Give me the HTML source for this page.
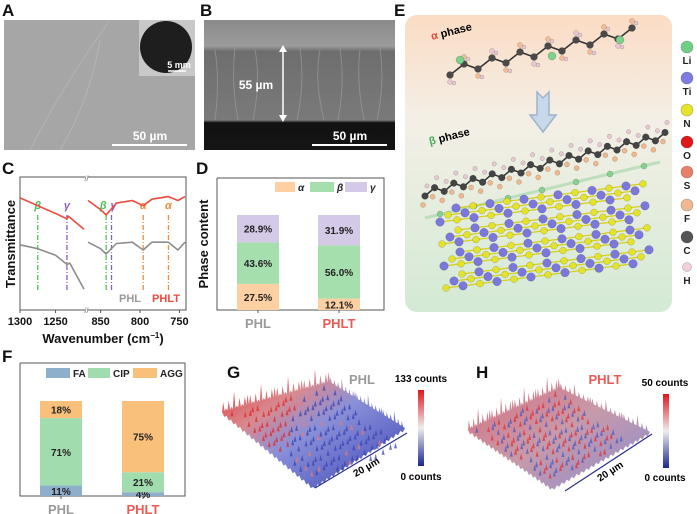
<!DOCTYPE html>
<html><head><meta charset="utf-8"><style>
body{margin:0;background:#fff;}
svg{display:block;font-family:"Liberation Sans",Arial,sans-serif;}
.pl{font-weight:bold;font-size:17px;fill:#111;}
.b{font-weight:bold;}
</style></head><body>
<svg id="fig" width="697" height="514" viewBox="0 0 697 514" xmlns="http://www.w3.org/2000/svg">
<defs>
<linearGradient id="eg" x1="0" y1="0" x2="0" y2="1"><stop offset="0" stop-color="#fbdcc4"/><stop offset="0.35" stop-color="#f4efe6"/><stop offset="1" stop-color="#d3ead5"/></linearGradient>
<linearGradient id="cb" x1="0" y1="0" x2="0" y2="1"><stop offset="0" stop-color="#e0141c"/><stop offset="0.5" stop-color="#eeeeee"/><stop offset="1" stop-color="#1c2690"/></linearGradient>
<linearGradient id="gs" x1="0" y1="0" x2="1" y2="1"><stop offset="0" stop-color="#e23030"/><stop offset="0.3" stop-color="#d88a90"/><stop offset="0.5" stop-color="#8a90d8"/><stop offset="1" stop-color="#3a44b8"/></linearGradient>
<linearGradient id="hs" x1="0" y1="0" x2="1" y2="1"><stop offset="0" stop-color="#d86a78"/><stop offset="0.5" stop-color="#c79aaa"/><stop offset="1" stop-color="#8a8ccf"/></linearGradient>
<linearGradient id="bg" x1="0" y1="0" x2="0" y2="1"><stop offset="0" stop-color="#8a8a8a"/><stop offset="0.2" stop-color="#9c9c9c"/><stop offset="0.24" stop-color="#6e6e6e"/><stop offset="0.77" stop-color="#7a7a7a"/><stop offset="0.79" stop-color="#111"/><stop offset="1" stop-color="#151515"/></linearGradient>
</defs>

<text class="pl" x="2" y="16">A</text>
<rect x="4" y="20" width="191" height="130" fill="#a6a6a6"/>
<path d="M30 150 Q60 90 110 20 M60 150 Q90 100 100 40" stroke="#b4b4b4" stroke-width="1" fill="none"/>
<rect x="139" y="20" width="56" height="56" fill="#c8c8c8"/>
<circle cx="166" cy="47" r="26" fill="#1e1e1e"/>
<text x="179" y="68" font-size="9" class="b" fill="#fff" text-anchor="middle">5 mm</text>
<line x1="168" y1="71" x2="186" y2="71" stroke="#fff" stroke-width="1.5"/>
<text x="150" y="140" font-size="12" class="b" fill="#fff" text-anchor="middle">50 µm</text>
<line x1="112" y1="145" x2="187" y2="145" stroke="#fff" stroke-width="2"/>

<text class="pl" x="200" y="16">B</text>
<rect x="204" y="20" width="191" height="130" fill="url(#bg)"/>
<g stroke="#9a9a9a" stroke-width="1" fill="none" opacity="0.7">
<path d="M215 50 q5 30 0 70 M235 48 q-4 35 3 72 M255 50 q6 30 -2 70 M300 48 q5 35 -3 72 M320 50 q-6 30 4 70 M340 48 q5 35 -2 72 M360 50 q-4 30 4 70 M380 48 q5 35 -3 72"/></g>
<line x1="283" y1="47" x2="283" y2="120" stroke="#fff" stroke-width="1.5"/>
<path d="M279 52 L283 45 L287 52 Z M279 115 L283 122 L287 115 Z" fill="#fff"/>
<text x="256" y="89" font-size="12" class="b" fill="#fff" text-anchor="middle">55 µm</text>
<text x="350" y="140" font-size="12" class="b" fill="#fff" text-anchor="middle">50 µm</text>
<line x1="312" y1="145" x2="387" y2="145" stroke="#fff" stroke-width="2"/>

<text class="pl" x="394" y="16">E</text>
<rect x="405" y="15" width="267" height="297" rx="12" fill="url(#eg)"/>
<g id="mol"></g>
<text x="432" y="40" font-size="11" class="b" transform="rotate(-14 432 40)"><tspan fill="#e84a3a">α</tspan> phase</text>
<text x="430" y="145" font-size="11" class="b" transform="rotate(-14 430 145)"><tspan fill="#4caa5a">β</tspan> phase</text>
<path d="M537 92 L543 98 L549 92 L549 115 L556 115 L543 132 L530 115 L537 115 Z" fill="#c8d8e8" stroke="#9ab4cc" stroke-width="1.5"/>
<g id="legendE"></g>

<text class="pl" x="2" y="174">C</text>
<g id="chartC"></g>

<text class="pl" x="196" y="174">D</text>
<g id="chartD"></g>

<text class="pl" x="2" y="362">F</text>
<g id="chartF"></g>

<text class="pl" x="227" y="378">G</text>
<text x="362" y="384" font-size="13" class="b" fill="#9a9a9a" text-anchor="middle">PHL</text>
<g id="surfG"></g>
<line x1="315" y1="488" x2="407" y2="433" stroke="#2a3090" stroke-width="1.2"/>
<text x="368" y="470" font-size="10" class="b" transform="rotate(-30 368 470)" text-anchor="middle">20 µm</text>
<rect x="418" y="390" width="6" height="76" fill="url(#cb)"/>
<text x="421" y="382" font-size="10" class="b" text-anchor="middle">133 counts</text>
<text x="421" y="480" font-size="10" class="b" text-anchor="middle">0 counts</text>

<text class="pl" x="476" y="378">H</text>
<text x="605" y="384" font-size="13" class="b" fill="#ec5a55" text-anchor="middle">PHLT</text>
<g id="surfH"></g>
<line x1="565" y1="491" x2="652" y2="434" stroke="#2a3090" stroke-width="1.2"/>
<text x="612" y="474" font-size="10" class="b" transform="rotate(-33 612 474)" text-anchor="middle">20 µm</text>
<rect x="663" y="394" width="6" height="74" fill="url(#cb)"/>
<text x="665" y="386" font-size="10" class="b" text-anchor="middle">50 counts</text>
<text x="665" y="481" font-size="10" class="b" text-anchor="middle">0 counts</text>
</svg>
<script>
const dCategories = ["PHL","PHLT"];
const dAlpha = [27.5,12.1];
const dBeta = [43.6,56.0];
const dGamma = [28.9,31.9];
const fCategories = ["PHL","PHLT"];
const fFA = [11,4];
const fCIP = [71,21];
const fAGG = [18,75];
const cPeakLabels = ["β","γ","β","γ","α","α"];
const cPeakWave = [1275,1234,843,840,796,764];
const cTickLabels = [1300,1250,850,800,750];
const cPHLTLeft = [[1300,0.86],[1275,0.8],[1250,0.74],[1234,0.7],[1232,0.72],[1210,0.62]];
const cPHLLeft = [[1300,0.5],[1275,0.47],[1250,0.42],[1234,0.35],[1230,0.36],[1210,0.16]];
const cPHLTRight = [[866,0.84],[850,0.77],[843,0.73],[830,0.82],[810,0.84],[796,0.8],[785,0.85],[764,0.87],[752,0.84],[743,0.87]];
const cPHLRight = [[866,0.52],[850,0.47],[843,0.43],[830,0.51],[810,0.52],[796,0.46],[785,0.52],[764,0.52],[752,0.46],[743,0.52]];

const NS="http://www.w3.org/2000/svg";
function mk(tag,attrs,parent){const e=document.createElementNS(NS,tag);for(const k in attrs)e.setAttribute(k,attrs[k]);parent.appendChild(e);return e;}

(function(){
 const g=document.getElementById('chartC');
 const top=177,bot=310,L=20,R=186;
 const xl=w=>20+(1300-w)/(1300-1210)*(84-20);
 const xr=w=>88+(866-w)/(866-743)*(185-88);
 const xw=w=>w>1000?xl(w):xr(w);
 const y=t=>bot-t*(bot-top)*0.98;
 let e=mk('rect',{x:L,y:top,width:R-L,height:bot-top,fill:'none',stroke:'#555','stroke-width':1},g);
 
 mk('rect',{x:85,y:174,width:3,height:6,fill:'#fff'},g);
 mk('rect',{x:85,y:307,width:3,height:6,fill:'#fff'},g);
 mk('text',{x:86.5,y:181,'font-size':7,'text-anchor':'middle',fill:'#555'},g).textContent='//';
 mk('text',{x:86.5,y:313,'font-size':7,'text-anchor':'middle',fill:'#555'},g).textContent='//';
 const cols=['#4fbf5a','#8a5cc8','#4fbf5a','#8a5cc8','#f08c3a','#f08c3a'];
 cPeakWave.forEach((w,i)=>{const x=xw(w)+(i===3?3:0);
  const l=mk('line',{x1:x,y1:215,x2:x,y2:292,stroke:cols[i],'stroke-width':1.3,'stroke-dasharray':'5,2,1,2'},g);
  
  const t=mk('text',{x:x+(i===2?-3:i===3?2:0),y:209,'font-size':11,'font-weight':'bold','font-style':'italic',fill:cols[i],'text-anchor':'middle'},g);t.textContent=cPeakLabels[i];
  });
 function line(d,col,name,xf){const p=mk('path',{d:'M'+d.map(q=>xf(q[0]).toFixed(1)+' '+y(q[1]).toFixed(1)).join(' L'),fill:'none',stroke:col,'stroke-width':1.6,'stroke-linejoin':'round'},g);
  }
 line(cPHLTLeft,'#ec4a3c','c-phlt-curve-left',xl);line(cPHLLeft,'#8c8c8c','c-phl-curve-left',xl);
 line(cPHLTRight,'#ec4a3c','c-phlt-curve-right',xr);line(cPHLRight,'#8c8c8c','c-phl-curve-right',xr);
 cTickLabels.forEach(w=>{const x=xw(w);mk('line',{x1:x,y1:bot,x2:x,y2:bot+3,stroke:'#555'},g);
  const t=mk('text',{x:x,y:325,'font-size':11,'font-weight':'bold','text-anchor':'middle',fill:'#111'},g);t.textContent=w;
  });
 let t=mk('text',{x:103,y:343,'font-size':13,'font-weight':'bold','text-anchor':'middle',fill:'#111'},g);
 t.innerHTML='Wavenumber (cm<tspan dy="-5" font-size="8">−1</tspan><tspan dy="5">)</tspan>';
 
 t=mk('text',{x:15,y:244,'font-size':13,'font-weight':'bold','text-anchor':'middle',fill:'#111',transform:'rotate(-90 15 244)'},g);t.textContent='Transmittance';
 
 t=mk('text',{x:130,y:302,'font-size':11,'font-weight':'bold','text-anchor':'middle',fill:'#999'},g);t.textContent='PHL';
 
 t=mk('text',{x:166,y:302,'font-size':11,'font-weight':'bold','text-anchor':'middle',fill:'#ec4a3c'},g);t.textContent='PHLT';
 
})();

function stacked(gid,frame,bars,series,cats,catCols,pfx){
 const g=document.getElementById(gid);
 let e=mk('path',{d:`M${frame.L} ${frame.top} L${frame.L} ${frame.bot} L${frame.R} ${frame.bot} L${frame.R} ${frame.top} L${frame.L} ${frame.top}`,fill:'none',stroke:'#555','stroke-width':1},g);
 
 const ys=v=>v*frame.scale;
 cats.forEach((c,i)=>{let acc=0;const x=bars.x[i];
  series.forEach(s=>{const v=s.vals[i];const h=ys(v);const yy=frame.bot-ys(acc)-h;
   const r=mk('rect',{x:x,y:yy,width:bars.w,height:h,fill:s.col},g);
   
   const t=mk('text',{x:x+bars.w/2,y:yy+h/2+4,'font-size':10,'font-weight':'bold','text-anchor':'middle',fill:'#222'},g);
   t.textContent=v.toFixed(s.dec)+'%';
   
   acc+=v;});
  mk('line',{x1:x+bars.w/2,y1:frame.bot,x2:x+bars.w/2,y2:frame.bot+3,stroke:'#555'},g);
  const t=mk('text',{x:x+bars.w/2,y:frame.bot+18,'font-size':13,'font-weight':'bold','text-anchor':'middle',fill:catCols[i]},g);t.textContent=c;
  });
 series.forEach(s=>{const r=mk('rect',{x:s.lx,y:frame.ly,width:s.lw,height:10,fill:s.col},g);
  
  const t=mk('text',{x:s.lx+s.lw+3,y:frame.ly+9,'font-size':10,'font-weight':'bold','font-style':s.it?'italic':'normal',fill:'#222'},g);t.textContent=s.name;
  });
 return g;}
const gD=stacked('chartD',{L:217,R:384,top:178,bot:310,scale:0.95,ly:182},{x:[237,318],w:42},
 [{key:'alpha',name:'α',vals:dAlpha,col:'#fdd0a4',dec:1,lx:275,lw:20,it:1},
  {key:'beta',name:'β',vals:dBeta,col:'#a6dfae',dec:1,lx:310,lw:24,it:1},
  {key:'gamma',name:'γ',vals:dGamma,col:'#d5c9e8',dec:1,lx:345,lw:22,it:1}],dCategories,['#9a9a9a','#ec5a55'],'d');
(function(){const t=mk('text',{x:208,y:244,'font-size':13,'font-weight':'bold','text-anchor':'middle',fill:'#111',transform:'rotate(-90 208 244)'},gD);t.textContent='Phase content';
 })();
stacked('chartF',{L:20,R:185,top:363,bot:496,scale:0.95,ly:368},{x:[40,122],w:42},
 [{key:'fa',name:'FA',vals:fFA,col:'#8eafcb',dec:0,lx:46,lw:24},
  {key:'cip',name:'CIP',vals:fCIP,col:'#a0dcae',dec:0,lx:88,lw:22},
  {key:'agg',name:'AGG',vals:fAGG,col:'#f9c07c',dec:0,lx:133,lw:24}],fCategories,['#9a9a9a','#ec5a55'],'f');

function surface(gid,P,fill,hot,name){
 const g=document.getElementById(gid);
 const [l,b,r,f]=P;
 let d=`M${l[0]} ${l[1]}`;
 const n=40;
 for(let i=1;i<=n;i++){const t=i/n;const x=l[0]+(b[0]-l[0])*t,y=l[1]+(b[1]-l[1])*t;d+=` L${(x-1.5).toFixed(1)} ${(y-(i%2?9:2)-(i%5==0?8:0)).toFixed(1)} L${x.toFixed(1)} ${y.toFixed(1)}`;}
 for(let i=1;i<=n;i++){const t=i/n;const x=b[0]+(r[0]-b[0])*t,y=b[1]+(r[1]-b[1])*t;d+=` L${(x-1.5).toFixed(1)} ${(y-(i%2?6:1)-(i%7==0?6:0)).toFixed(1)} L${x.toFixed(1)} ${y.toFixed(1)}`;}
 for(let i=1;i<=n;i++){const t=i/n;const x=r[0]+(f[0]-r[0])*t,y=r[1]+(f[1]-r[1])*t;d+=` L${x.toFixed(1)} ${(y+(i%2?3:0)).toFixed(1)}`;}
 for(let i=1;i<=n;i++){const t=i/n;const x=f[0]+(l[0]-f[0])*t,y=f[1]+(l[1]-f[1])*t;d+=` L${x.toFixed(1)} ${(y+(i%2?3:0)).toFixed(1)}`;}
 const p=mk('path',{d:d+' Z',fill:fill},g);
 
 for(let i=0;i<160;i++){const u=((i*37)%97)/97*0.9+0.05,v=((i*61)%89)/89*0.85+0.05;
  const x=l[0]+(b[0]-l[0])*u+(f[0]-l[0])*v,y=l[1]+(b[1]-l[1])*u+(f[1]-l[1])*v;
  mk('path',{d:`M${(x-1.5).toFixed(1)} ${(y+2).toFixed(1)} L${x.toFixed(1)} ${(y-4).toFixed(1)} L${(x+1.5).toFixed(1)} ${(y+2).toFixed(1)}Z`,fill:hot(u,v),opacity:0.75},g);}
}
surface('surfG',[[222,412],[330,382],[405,428],[313,487]],'url(#gs)',(u,v)=>(u+v<0.7?'#e02a2a':(u*v*13%1<0.2?'#e57a7a':'#3a44b0')),'g-surface-plot');
surface('surfH',[[468,430],[560,388],[650,432],[552,488]],'url(#hs)',(u,v)=>((u*7+v*3)%1<0.5?'#e0303a':'#5058c0'),'h-surface-plot');

(function(){
 const g=document.getElementById('mol');
 function atom(x,y,r,c){mk('circle',{cx:x.toFixed(1),cy:y.toFixed(1),r:r,fill:c,stroke:'rgba(0,0,0,0.25)','stroke-width':0.5},g);}
 for(let i=0;i<14;i++){const x=450+i*14,y=75-i*3+(i%2?-8:0);
  if(i>0)mk('line',{x1:x-14,y1:75-(i-1)*3+((i-1)%2?-8:0),x2:x,y2:y,stroke:'#333','stroke-width':1.5},g);}
 for(let i=0;i<14;i++){const x=450+i*14,y=75-i*3+(i%2?-8:0);
  atom(x,y+(i%2?-7:7),2.5,i%3?'#f3bd96':'#e8c8d2');atom(x+4,y+(i%2?-5:8),2,'#e8c8d2');atom(x,y,3.5,'#4a4a4a');}
 atom(460,60,4,'#7fd08a');atom(552,56,4,'#7fd08a');atom(620,40,4,'#7fd08a');
 for(let i=0;i<26;i++){const x=425+i*9.6,y=196-i*2.3+(i%2?-6:0);
  if(i>0)mk('line',{x1:x-9.6,y1:196-(i-1)*2.3+((i-1)%2?-6:0),x2:x,y2:y,stroke:'#333','stroke-width':1.5},g);}
 for(let i=0;i<26;i++){const x=425+i*9.6,y=196-i*2.3+(i%2?-6:0);
  atom(x-2,y+9,2.5,'#f0b88c');atom(x+2,y-10,2.2,'#e8c8d2');atom(x,y,3.4,'#444');}
 mk('line',{x1:425,y1:218,x2:660,y2:162,stroke:'#9fd6a6','stroke-width':3,opacity:0.6},g);
 for(let i=0;i<7;i++)atom(440+i*34,214-i*8,3,'#86d090');
 for(let k=3;k>=0;k--)for(let j=2;j>=0;j--)for(let i=0;i<12;i++){
  const x=440+i*17+j*8+k*2,y=222+k*22-i*2.2-j*7;
  if(i<11)mk('line',{x1:x,y1:y,x2:x+17,y2:y-2.2,stroke:'#d8d020','stroke-width':1.3},g);
  atom(x,y,(i+j+k)%2?3.4:4.3,(i+j+k)%2?'#e4e22a':'#7a78dc');}
 
 const lg=document.getElementById('legendE');
 const els=[['Li','#6fcf86',47],['Ti','#7e7ce0',78],['N','#e6e42a',110],['O','#e01818',142],['S','#e8806a',172],['F','#f0b890',205],['C','#555',237],['H','#f0d0dc',267]];
 els.forEach(e=>{const c=mk('circle',{cx:687,cy:e[2],r:e[0]==='H'?4.5:6,fill:e[1],stroke:'rgba(0,0,0,0.3)','stroke-width':0.6},lg);
  
  const t=mk('text',{x:687,y:e[2]+17,'font-size':10,'font-weight':'bold','text-anchor':'middle',fill:'#222'},lg);t.textContent=e[0];
  });
})();
</script>
</body></html>
